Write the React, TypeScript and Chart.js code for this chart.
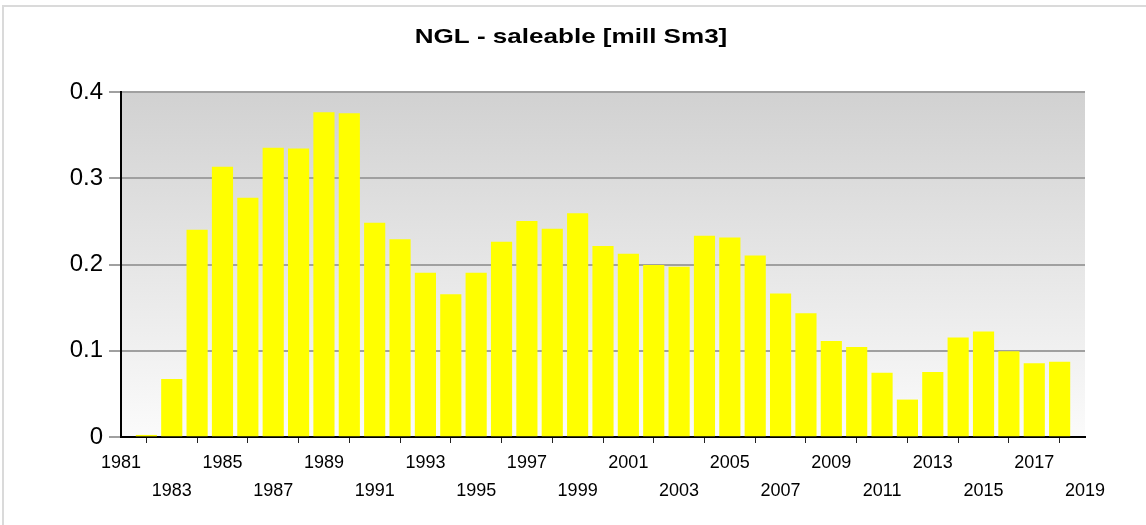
import React, { useEffect, useRef } from 'react';
import { Chart, registerables } from 'chart.js';

Chart.register(...registerables);

const titleText = 'NGL - saleable [mill Sm3]';

const years = [
  1982, 1983, 1984, 1985, 1986, 1987, 1988, 1989, 1990, 1991,
  1992, 1993, 1994, 1995, 1996, 1997, 1998, 1999, 2000, 2001,
  2002, 2003, 2004, 2005, 2006, 2007, 2008, 2009, 2010, 2011,
  2012, 2013, 2014, 2015, 2016, 2017, 2018,
];

const values = [
  0.002, 0.067, 0.240, 0.313, 0.277, 0.335, 0.334, 0.376, 0.375, 0.248,
  0.229, 0.190, 0.165, 0.190, 0.226, 0.250, 0.241, 0.259, 0.221, 0.212,
  0.199, 0.197, 0.233, 0.231, 0.210, 0.166, 0.143, 0.111, 0.104, 0.074,
  0.043, 0.075, 0.115, 0.122, 0.099, 0.085, 0.087,
];

const yTickLabels = ['0', '0.1', '0.2', '0.3', '0.4'];

const FONT = '"Liberation Sans", Arial, Helvetica, sans-serif';

export default function App() {
  const ref = useRef<HTMLCanvasElement | null>(null);

  useEffect(() => {
    const canvas = ref.current;
    if (!canvas) return;

    const bgPlugin = {
      id: 'bgPlugin',
      beforeDraw(chart: any) {
        const { ctx, chartArea: a } = chart;
        ctx.save();
        // outer frame
        ctx.strokeStyle = '#dadada';
        ctx.lineWidth = 2;
        ctx.beginPath();
        ctx.moveTo(3, 525);
        ctx.lineTo(3, 6);
        ctx.lineTo(1146, 6);
        ctx.stroke();
        // plot background gradient
        const g = ctx.createLinearGradient(0, a.top, 0, a.bottom);
        g.addColorStop(0, '#d1d1d1');
        g.addColorStop(1, '#fbfbfb');
        ctx.fillStyle = g;
        ctx.fillRect(a.left, a.top, a.right - a.left, a.bottom - a.top);
        // title
        ctx.font = `bold 21px ${FONT}`;
        ctx.fillStyle = '#000';
        ctx.textAlign = 'center';
        ctx.textBaseline = 'alphabetic';
        ctx.translate(571, 42.7);
        ctx.scale(1.24, 1);
        ctx.fillText(titleText, 0, 0);
        ctx.restore();
      },
    };

    const chart = new Chart(canvas, {
      type: 'bar',
      data: {
        datasets: [
          {
            data: years.map((yr, i) => ({ x: yr, y: values[i] })),
            backgroundColor: '#ffff00',
            borderWidth: 0,
            barThickness: 20.5,
          },
        ],
      },
      options: {
        animation: false,
        responsive: false,
        maintainAspectRatio: false,
        layout: { padding: { top: 92, right: 61, left: 0, bottom: 0 } },
        plugins: {
          legend: { display: false },
          title: { display: false },
          tooltip: { enabled: false },
        },
        scales: {
          x: {
            type: 'linear',
            min: 1981,
            max: 2019,
            offset: false,
            ticks: {
              stepSize: 2,
              autoSkip: false,
              maxRotation: 0,
              minRotation: 0,
              color: '#000',
              padding: 6,
              font: { family: FONT, size: 18, lineHeight: 1.55 },
              callback: (v: any) => {
                const n = Number(v);
                const i = Math.round((n - 1981) / 2);
                return i % 2 === 0 ? String(n) : ['', String(n)];
              },
            },
            grid: { drawOnChartArea: false, tickLength: 6, color: '#222', lineWidth: 1 },
            border: { color: '#000', width: 2 },
            afterFit: (s: any) => {
              s.height = 88;
            },
          },
          y: {
            min: 0,
            max: 0.4,
            ticks: {
              stepSize: 0.1,
              color: '#000',
              padding: 6,
              font: { family: FONT, size: 24 },
              callback: (v: any) => yTickLabels[Math.round(Number(v) * 10)] ?? '',
            },
            grid: { color: '#a0a0a0', lineWidth: 2, tickLength: 12 },
            border: { color: '#000', width: 2 },
            afterFit: (s: any) => {
              s.width = 121;
            },
          },
        },
      },
      plugins: [bgPlugin],
    } as any);

    return () => chart.destroy();
  }, []);

  return (
    <div style={{ position: 'absolute', left: 0, top: 0, width: 1146, height: 525, background: '#fff' }}>
      <canvas ref={ref} width={1146} height={525} style={{ display: 'block', width: 1146, height: 525 }} />
    </div>
  );
}
